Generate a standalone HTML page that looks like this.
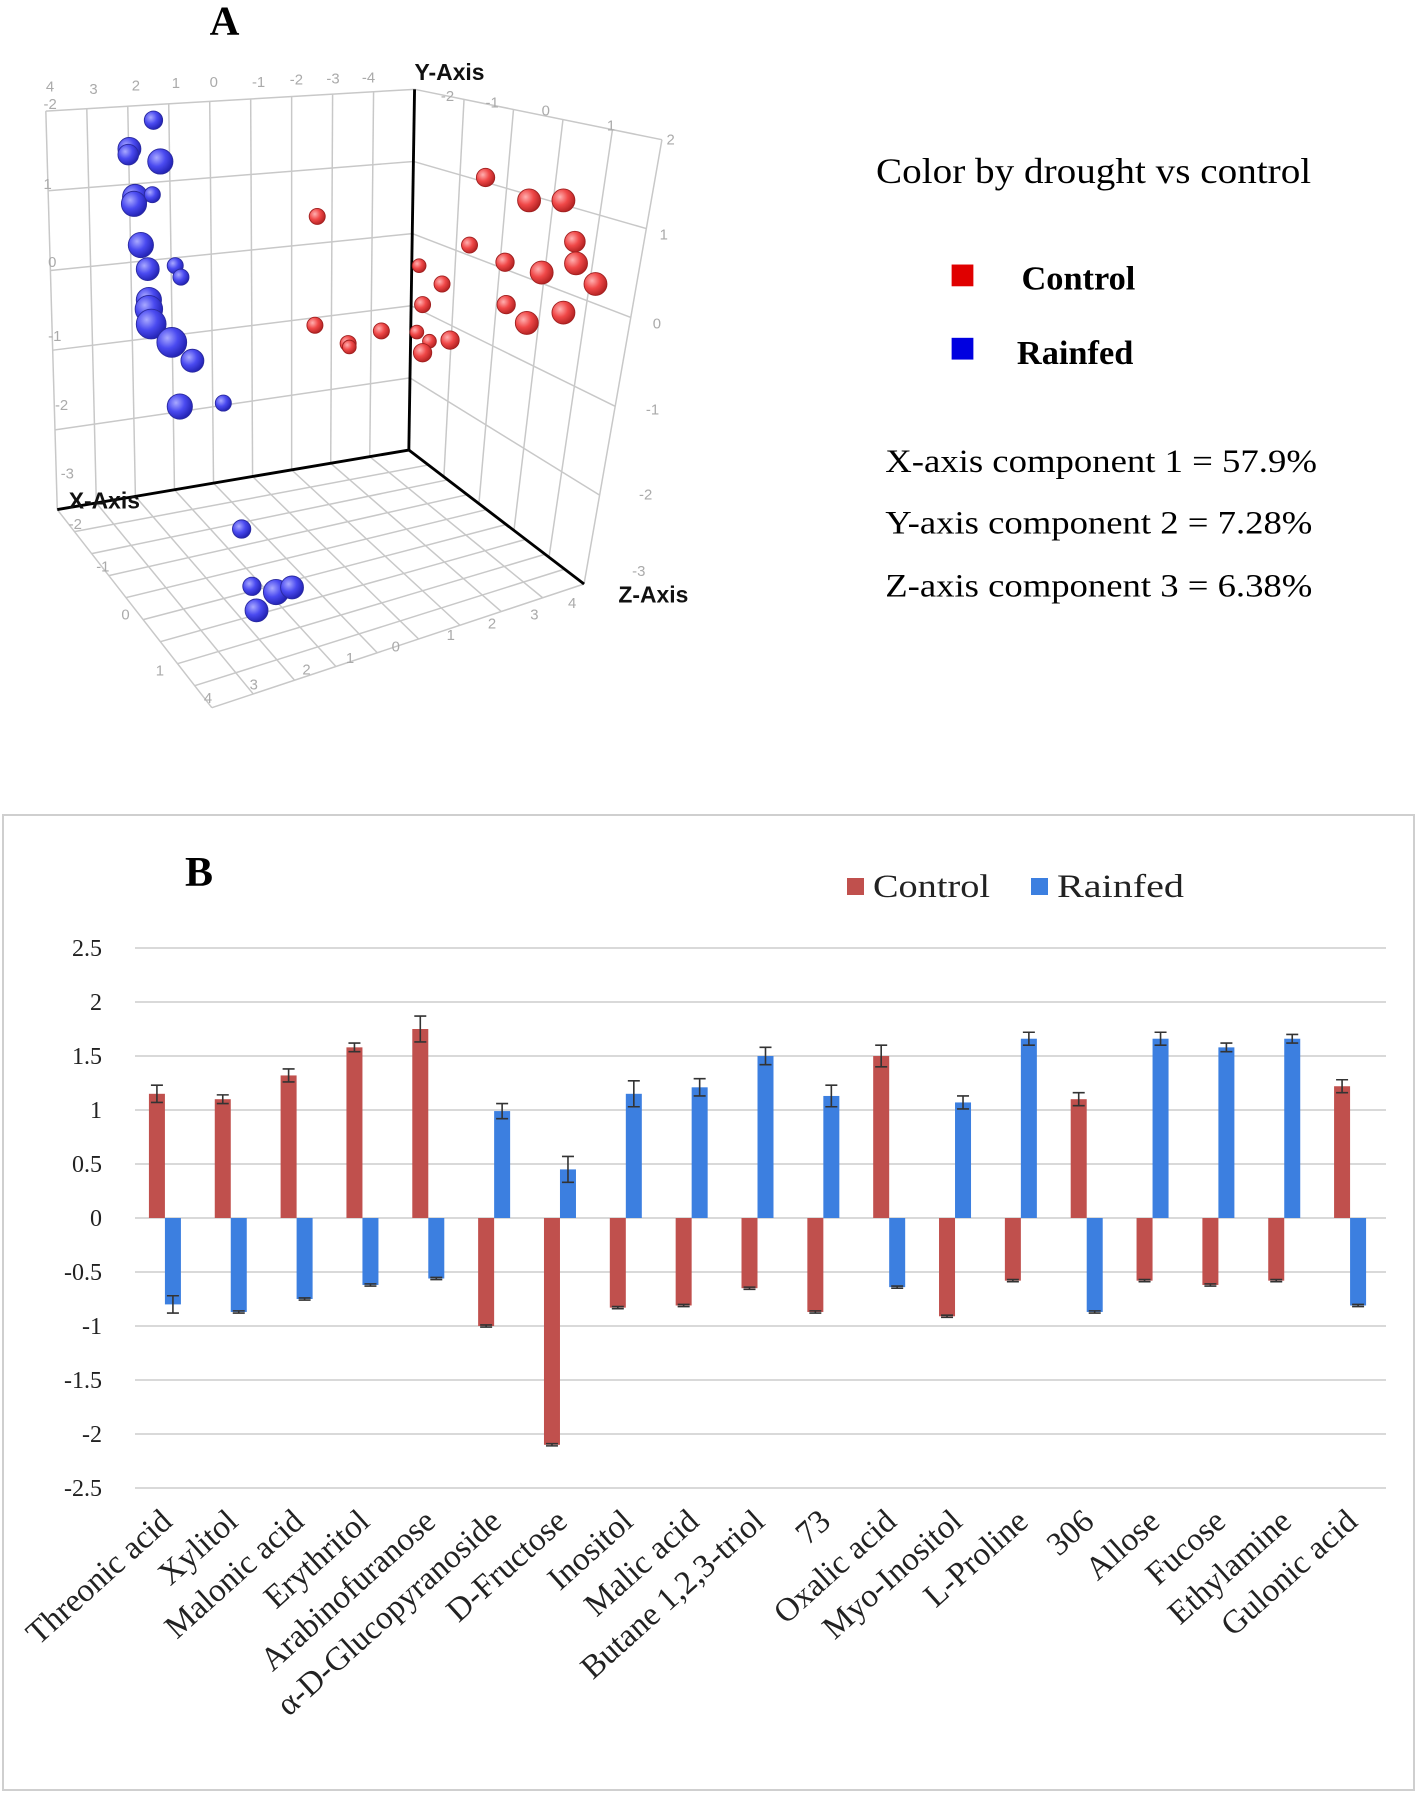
<!DOCTYPE html>
<html><head><meta charset="utf-8"><style>
html,body{margin:0;padding:0;background:#fff;width:1420px;height:1798px;overflow:hidden;position:relative}
svg{position:absolute;left:0;top:0}
</style></head><body>
<svg id="pa" width="1420" height="801.6" viewBox="0 0 1240 700" xmlns="http://www.w3.org/2000/svg">
<defs>
<radialGradient id="gb" cx="35%" cy="35%" r="70%"><stop offset="0" stop-color="#a9a9ff"/><stop offset="0.5" stop-color="#4a4af0"/><stop offset="1" stop-color="#2020b0"/></radialGradient>
<radialGradient id="gr" cx="35%" cy="35%" r="70%"><stop offset="0" stop-color="#ffb0b0"/><stop offset="0.5" stop-color="#f04848"/><stop offset="1" stop-color="#b02020"/></radialGradient>
</defs>
<g id="grid" stroke="#c8c8c8" stroke-width="1.3" fill="none"></g>
<g id="axes" stroke="#000" stroke-width="2.5">
<line x1="362" y1="78" x2="357" y2="393"/>
<line x1="357" y1="393" x2="50" y2="445"/>
<line x1="357" y1="393" x2="510" y2="510"/>
</g>
<g font-family="Liberation Sans, sans-serif" font-size="13" fill="#aaa">
<text x="38" y="95">-2</text><text x="40" y="80">4</text><text x="78" y="82">3</text><text x="115" y="79">2</text><text x="150" y="77">1</text><text x="183" y="76">0</text><text x="220" y="76">-1</text><text x="253" y="74">-2</text><text x="285" y="73">-3</text><text x="316" y="72">-4</text>
<text x="38" y="165">1</text><text x="42" y="233">0</text><text x="42" y="298">-1</text><text x="48" y="358">-2</text><text x="53" y="418">-3</text>
<text x="385" y="88">-2</text><text x="424" y="94">-1</text><text x="473" y="101">0</text><text x="530" y="114">1</text>
<text x="582" y="126">2</text><text x="576" y="209">1</text><text x="570" y="287">0</text><text x="564" y="362">-1</text><text x="558" y="436">-2</text><text x="552" y="503">-3</text>
<text x="60" y="462">-2</text><text x="84" y="499">-1</text><text x="106" y="541">0</text><text x="136" y="590">1</text>
<text x="178" y="614">4</text><text x="218" y="602">3</text><text x="264" y="589">2</text><text x="302" y="579">1</text><text x="342" y="569">0</text><text x="390" y="559">1</text><text x="426" y="549">2</text><text x="463" y="541">3</text><text x="496" y="531">4</text>
</g>
<g font-family="Liberation Sans, sans-serif" font-size="20" font-weight="bold" fill="#111">
<text x="362" y="70">Y-Axis</text>
<text x="60" y="444">X-Axis</text>
<text x="540" y="526">Z-Axis</text>
</g>
<g id="pts"></g>
<text x="196" y="30" text-anchor="middle" font-family="Liberation Serif, serif" font-size="36" font-weight="bold">A</text>
<text x="765" y="160" font-family="Liberation Serif, serif" font-size="31" textLength="380" lengthAdjust="spacingAndGlyphs">Color by drought vs control</text>
<rect x="831" y="231" width="19" height="19" fill="#e00000"/>
<text x="892" y="253" font-family="Liberation Serif, serif" font-size="30" font-weight="bold">Control</text>
<rect x="831" y="295" width="19" height="19" fill="#0000e0"/>
<text x="888" y="318" font-family="Liberation Serif, serif" font-size="30" font-weight="bold">Rainfed</text>
<g font-family="Liberation Serif, serif" font-size="29">
<text x="773" y="412" textLength="377" lengthAdjust="spacingAndGlyphs">X-axis component 1 = 57.9%</text>
<text x="773" y="466" textLength="373" lengthAdjust="spacingAndGlyphs">Y-axis component 2 = 7.28%</text>
<text x="773" y="521" textLength="373" lengthAdjust="spacingAndGlyphs">Z-axis component 3 = 6.38%</text>
</g>
</svg>

<svg id="pb" width="1420" height="1798" viewBox="0 0 1420 1798" xmlns="http://www.w3.org/2000/svg" style="pointer-events:none">
<rect x="3" y="815" width="1411" height="975" fill="none" stroke="#cfcfcf" stroke-width="2"/>
<text x="185" y="886" font-family="Liberation Serif, serif" font-size="42" font-weight="bold">B</text>
<rect x="847" y="878" width="17" height="17" fill="#c0504d"/>
<text x="873" y="897" font-family="Liberation Serif, serif" font-size="33" fill="#222" textLength="117" lengthAdjust="spacingAndGlyphs">Control</text>
<rect x="1031" y="878" width="17" height="17" fill="#3c7fe0"/>
<text x="1057" y="897" font-family="Liberation Serif, serif" font-size="33" fill="#222" textLength="127" lengthAdjust="spacingAndGlyphs">Rainfed</text>
<g id="bgrid"></g><g id="bars"></g><g id="blabels"></g>
</svg>
<script>
// ---- Panel A data ----
const bluePts = [[134,105,8],[113,130,10],[112,135,9],[140,141,11],[118,172,11],[117,178,11],[133,170,7],[123,214,11],[129,235,10],[153,232,7],[158,242,7],[130,262,11],[130,270,12],[132,283,13],[150,299,13],[168,315,10],[157,355,11],[195,352,7],[211,462,8],[220,512,8],[241,517,11],[255,513,10],[224,533,10]];
const redPts = [[424,155,8],[462,175,10],[492,175,10],[277,189,7],[502,211,9],[410,214,7],[441,229,8],[473,238,10],[503,230,10],[520,248,10],[366,232,6],[386,248,7],[369,266,7],[442,266,8],[460,282,10],[492,273,10],[275,284,7],[304,300,7],[305,303,6],[333,289,7],[364,290,6],[375,298,6],[393,297,8],[369,308,8]];
// ---- Panel B data ----
const categories = ["Threonic acid","Xylitol","Malonic acid","Erythritol","Arabinofuranose","\u03b1-D-Glucopyranoside","D-Fructose","Inositol","Malic acid","Butane 1,2,3-triol","73","Oxalic acid","Myo-Inositol","L-Proline","306","Allose","Fucose","Ethylamine","Gulonic acid"];
const controlVals = [1.15,1.1,1.32,1.58,1.75,-1.0,-2.1,-0.83,-0.81,-0.65,-0.87,1.5,-0.91,-0.58,1.1,-0.58,-0.62,-0.58,1.22];
const controlErr = [0.08,0.04,0.06,0.04,0.12,0.01,0.01,0.01,0.01,0.01,0.01,0.1,0.01,0.01,0.06,0.01,0.01,0.01,0.06];
const rainfedVals = [-0.8,-0.87,-0.75,-0.62,-0.56,0.99,0.45,1.15,1.21,1.5,1.13,-0.64,1.07,1.66,-0.87,1.66,1.58,1.66,-0.81];
const rainfedErr = [0.08,0.01,0.01,0.01,0.01,0.07,0.12,0.12,0.08,0.08,0.1,0.01,0.06,0.06,0.01,0.06,0.04,0.04,0.01];
const yTicks = ["2.5","2","1.5","1","0.5","0","-0.5","-1","-1.5","-2","-2.5"];

const NS="http://www.w3.org/2000/svg";
function mk(tag, attrs, parent){const e=document.createElementNS(NS,tag);for(const k in attrs)e.setAttribute(k,attrs[k]);parent.appendChild(e);return e;}

const grid=document.getElementById('grid');
function lerp(a,b,t){return [a[0]+(b[0]-a[0])*t,a[1]+(b[1]-a[1])*t];}
function quad(p00,p10,p01,p11,n,m){
  for(let i=0;i<=n;i++){const t=i/n;const a=lerp(p00,p10,t),b=lerp(p01,p11,t);
    mk('line',{x1:a[0],y1:a[1],x2:b[0],y2:b[1]},grid);}
  for(let j=0;j<=m;j++){const t=j/m;const a=lerp(p00,p01,t),b=lerp(p10,p11,t);
    mk('line',{x1:a[0],y1:a[1],x2:b[0],y2:b[1]},grid);}
}
const O=[357,393],Y=[362,78],X=[50,445],Z=[510,510];
quad(O,X,Y,[40,97],9,5);
quad(O,Z,Y,[578,122],5,5);
quad(O,X,Z,[185,618],9,9);

const pts=document.getElementById('pts');
bluePts.forEach(p=>{const c=mk('circle',{cx:p[0],cy:p[1],r:p[2],fill:'url(#gb)',stroke:'#2a2aa0','stroke-width':0.8},pts);

});
redPts.forEach(p=>{const c=mk('circle',{cx:p[0],cy:p[1],r:p[2],fill:'url(#gr)',stroke:'#a02020','stroke-width':0.8},pts);

});

const x0=135,x1=1386,y0=1218,unit=108;
const cw=(x1-x0)/categories.length;
function yS(v){return y0-v*unit;}
function xC(i){return x0+cw*(i+0.5);}
const bg=document.getElementById('bgrid');
yTicks.forEach(t=>{const v=parseFloat(t);
  const l=mk('line',{x1:x0,x2:x1,y1:yS(v),y2:yS(v),stroke:'#d9d9d9','stroke-width':2},bg);
  
  
  const tx=mk('text',{x:102,y:yS(v)+8,'text-anchor':'end','font-family':'Liberation Serif, serif','font-size':24,fill:'#222'},bg);
  tx.textContent=t;
  
  
});
const bars=document.getElementById('bars');
function bar(i,v,e,color,dx,name){
  const x=xC(i)+dx,w=16;
  const r=mk('rect',{x:x,y:Math.min(yS(v),y0),width:w,height:Math.abs(yS(v)-y0),fill:color},bars);
  
  
  const cx=x+w/2,ya=yS(v+e),yb=yS(v-e);
  const eb=mk('path',{d:`M${cx},${ya}V${yb}M${cx-6},${ya}H${cx+6}M${cx-6},${yb}H${cx+6}`,stroke:'#333','stroke-width':1.6,fill:'none'},bars);
  
  
}
categories.forEach((c,i)=>{
  bar(i,controlVals[i],controlErr[i],'#c0504d',-19,'bar-control');
  bar(i,rainfedVals[i],rainfedErr[i],'#3c7fe0',-3,'bar-rainfed');
  const ax=xC(i)+6, ay=1524;
  const t=mk('text',{x:ax,y:ay,'text-anchor':'end','font-family':'Liberation Serif, serif','font-size':33,fill:'#222',transform:`rotate(-42 ${ax} ${ay})`},document.getElementById('blabels'));
  t.textContent=c;
  
  
});
</script>
</body></html>
